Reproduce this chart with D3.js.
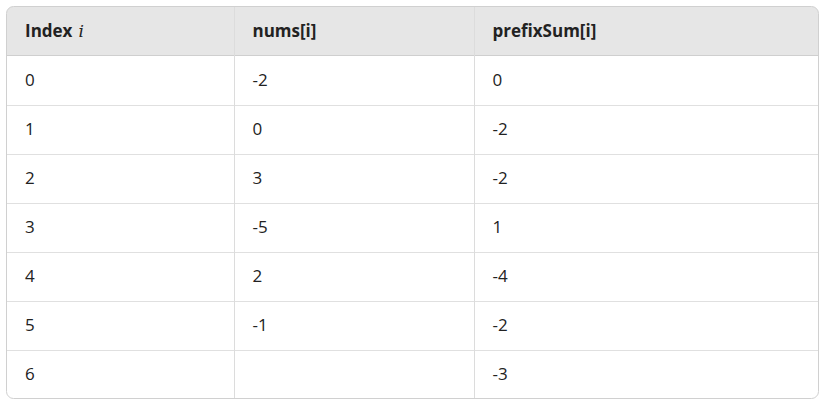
<!DOCTYPE html>
<html><head><meta charset="utf-8">
<script src="https://cdn.jsdelivr.net/npm/d3@7"></script>
<style>body{margin:0;background:#fff}</style>
</head><body>
<div id="chart"></div>
<script>
// table data
var headers = ["Index", "nums[i]", "prefixSum[i]"];
var index = ["0", "1", "2", "3", "4", "5", "6"];
var nums = ["-2", "0", "3", "-5", "2", "-1", ""];
var prefixSum = ["0", "-2", "-2", "1", "-4", "-2", "-3"];

var W = 825, H = 405;
var tLeft = 6.5, tRight = 818.5, tTop = 6.5, headH = 49, tBottom = 398.5;
var colEdges = [tLeft, 234, 474, tRight];

var svg = d3.select("#chart").append("svg").attr("width", W).attr("height", H);

var y = d3.scaleBand().domain(index).range([tTop + headH, tBottom]);

svg.append("clipPath").attr("id", "c").append("rect")
  .attr("x", tLeft).attr("y", tTop).attr("width", tRight - tLeft).attr("height", tBottom - tTop)
  .attr("rx", 7);

var g = svg.append("g").attr("clip-path", "url(#c)");
g.append("rect").attr("x", tLeft).attr("y", tTop).attr("width", tRight - tLeft)
  .attr("height", headH).attr("fill", "#e6e6e6");

// row lines
g.selectAll(".row").data(index.slice(1)).enter().append("line")
  .attr("x1", tLeft).attr("x2", tRight)
  .attr("y1", function (d) { return Math.round(y(d)) + 0.5 })
  .attr("y2", function (d) { return Math.round(y(d)) + 0.5 })
  .attr("stroke", "#e0e0e0");
g.append("line").attr("x1", tLeft).attr("x2", tRight)
  .attr("y1", tTop + headH).attr("y2", tTop + headH).attr("stroke", "#cfcfcf");
// column lines
g.selectAll(".col").data(colEdges.slice(1, 3)).enter().append("line")
  .attr("x1", function (d) { return d + 0.5 }).attr("x2", function (d) { return d + 0.5 })
  .attr("y1", tTop).attr("y2", tBottom).attr("stroke", "#dcdcdc");

svg.append("rect").attr("x", tLeft).attr("y", tTop).attr("width", tRight - tLeft)
  .attr("height", tBottom - tTop).attr("rx", 7).attr("fill", "none").attr("stroke", "#d0d0d0");

var font = "'Open Sans', 'Noto Sans', sans-serif";
var hy = tTop + headH / 2 + 6;
headers.forEach(function (h, i) {
  var t = svg.append("text").attr("x", colEdges[i] + 18.5).attr("y", hy)
    .attr("font-family", font).attr("font-size", 17).attr("font-weight", 700).attr("fill", "#222").text(h);
  if (i === 0) t.append("tspan").attr("font-family", "'DejaVu Serif', serif").attr("font-style", "italic")
    .attr("font-weight", 400).attr("dx", 6).text("i");
});

var cols = [index, nums, prefixSum];
cols.forEach(function (col, ci) {
  svg.selectAll(".c" + ci).data(col).enter().append("text")
    .attr("x", colEdges[ci] + 18.5)
    .attr("y", function (d, i) { return y(index[i]) + y.bandwidth() / 2 + 6 })
    .attr("font-family", font).attr("font-size", 17).attr("fill", "#222")
    .text(function (d) { return d });
});
</script>
</body></html>
